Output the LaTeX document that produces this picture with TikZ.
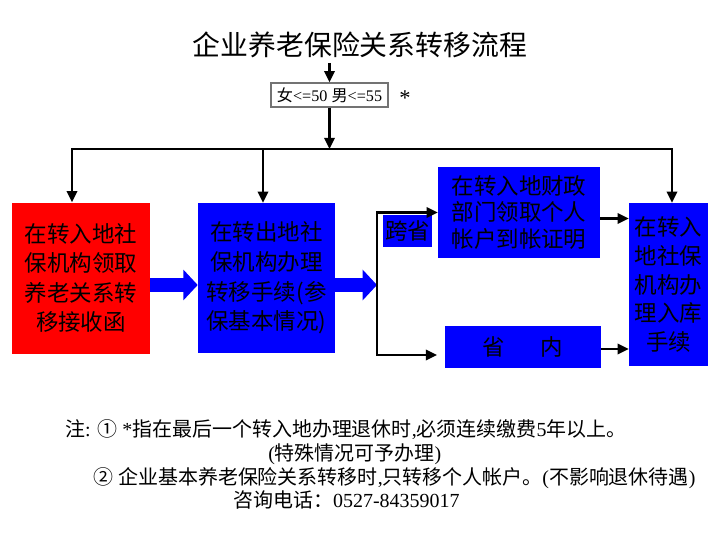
\documentclass[tikz,border=0pt]{standalone}
\usepackage{fontspec}
\setmainfont{Liberation Serif}
\newfontfamily\cjk{Noto Sans CJK SC}
\usetikzlibrary{arrows.meta, calc}
\newcommand{\zh}[1]{{\cjk #1}}

\begin{document}
\begin{tikzpicture}[x=0.25mm, y=-0.25mm,
  arr/.style={-{Triangle[length=2.8mm, width=2.6mm]}, line width=0.6mm},
  fat/.style={-{Triangle[length=3.6mm, width=7.5mm]}, line width=3.6mm, blue},
  box/.style={fill=blue, inner sep=0pt, align=center, font={\fontsize{16pt}{21pt}\cjk}},
  note/.style={anchor=west, inner sep=0pt, font=\fontsize{14.2pt}{17pt}\selectfont}]
  \useasboundingbox (0,0) rectangle (720,540);
  % title and age condition
  \node[font={\fontsize{19.8pt}{22pt}\cjk}] (title) at (360,45) {企业养老保险关系转移流程};
  \node[draw=black!55, line width=0.35mm, minimum width=29.25mm, minimum height=6mm,
        inner sep=0pt, font=\fontsize{11.5pt}{13pt}\selectfont] (age) at (329.5,95)
        {\zh{女}<=50 \zh{男}<=55};
  \node[font=\fontsize{16pt}{18pt}\selectfont] (star) at (405,98) {*};
  % boxes
  \node[box, fill=red, minimum width=34.5mm, minimum height=37.75mm] (red) at (81,278)
        {在转入地社\\保机构领取\\养老关系转\\移接收函};
  \node[box, minimum width=34.25mm, minimum height=37.5mm] (mid) at (266.5,278)
        {在转出地社\\保机构办理\\转移手续(参\\保基本情况)};
  \node[box, minimum width=40.5mm, minimum height=22.75mm,
        font={\fontsize{16pt}{19pt}\cjk}] (top) at (519,212.5)
        {在转入地财政\\部门领取个人\\帐户到帐证明};
  \node[box, minimum width=12.25mm, minimum height=8mm] (cross) at (407.5,231) {跨省};
  \node[box, minimum width=39mm, minimum height=10.5mm] (prov) at (523,347)
        {省\hspace{9mm}内};
  \node[box, minimum width=19.75mm, minimum height=40.75mm,
        font={\fontsize{16pt}{20.5pt}\cjk}] (right) at (668.5,284.5)
        {在转入\\地社保\\机构办\\理入库\\手续};
  % bus line at the top
  \coordinate (busL) at (72,149);
  \coordinate (busM) at (263,149);
  \coordinate (busR) at (672,149);
  \draw[arr] (age.north |- title.south) -- (age.north);
  \draw[arr] (age.south) -- (age.south |- busM);
  \draw[arr] (busM) -- (busL) -- (busL |- red.north);
  \draw[arr] (busM) -- (busR) -- (busR |- right.north);
  \draw[arr] (busM) -- (busM |- mid.north);
  % fat arrows
  \coordinate (split) at (377,285);
  \draw[fat] ($(red.east)+(0,7)$) coordinate (f1) -- (f1 -| mid.west);
  \draw[fat] ($(mid.east)+(0,7)$) -- (split);
  % branches
  \coordinate (inBot) at (437,355);
  \draw[arr] (split) |- (top.west);
  \draw[arr] (split) |- (inBot);
  \draw[arr] ($(top.east)+(0,6)$) coordinate (a1) -- (a1 -| right.west);
  \draw[arr] ($(prov.east)+(0,2)$) coordinate (a2) -- (a2 -| right.west);
  % notes
  \node[note] (n1) at (65,430) {\zh{注}: \zh{①} *\zh{指在最后一个转入地办理退休时},\zh{必须连续缴费}5\zh{年以上。}};
  \node[note] (n2) at (268,454) {(\zh{特殊情况可予办理})};
  \node[note] (n3) at (93,478) {\zh{②} \zh{企业基本养老保险关系转移时},\zh{只转移个人帐户。}(\zh{不影响退休待遇})};
  \node[note] (n4) at (233,500) {\zh{咨询电话：}0527-84359017};
\end{tikzpicture}
\end{document}
